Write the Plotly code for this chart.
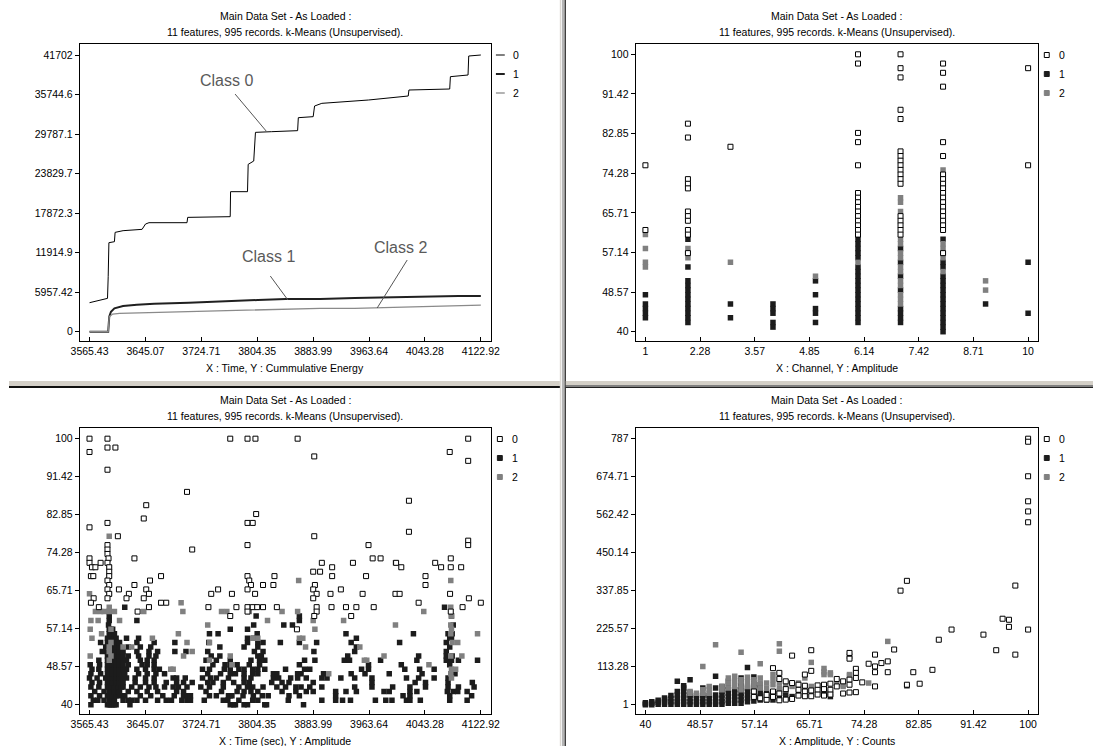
import plotly.graph_objects as go

W, H = 1102, 746
FONT = "Liberation Sans"

# ---------------- Top-left: cumulative energy vs time ----------------
c0_time = [3565.43, 3591.04, 3592.02, 3593.01, 3600.89, 3601.87, 3613.20, 3640.29, 3645.21, 3650.14,
           3704.31, 3705.29, 3765.86, 3766.36, 3790.49, 3791.47, 3799.35, 3801.82, 3824.96, 3861.90,
           3862.88, 3884.06, 3886.03, 3896.37, 3962.85, 4019.49, 4020.47, 4078.58, 4079.57, 4104.68,
           4105.67, 4122.92]
c0_energy = [4371, 5024, 8290, 13415, 13566, 14972, 15224, 15425, 16228, 16429,
             16429, 17233, 17334, 21102, 21102, 25222, 25724, 30045, 30146, 30297,
             32256, 32407, 34015, 34416, 34919, 35522, 36426, 36577, 38436, 38687,
             41551, 41702]
c1_time = [3565.43, 3592.02, 3593.50, 3595.96, 3600.89, 3613.20, 3632.90, 3657.52, 3706.77, 3756.02,
           3805.27, 3844.67, 3893.92, 3943.16, 3992.41, 4041.66, 4090.91, 4122.92]
c1_energy = [0, 0, 2261, 3015, 3517, 3869, 4070, 4220, 4371, 4522,
             4773, 4924, 4924, 5075, 5175, 5326, 5376, 5376]
c2_time = [3565.43, 3592.02, 3593.50, 3598.42, 3608.27, 3647.67, 3696.92, 3746.17, 3795.42, 3844.67,
           3893.92, 3943.16, 3992.41, 4041.66, 4090.91, 4122.92]
c2_energy = [0, 0, 2261, 2663, 2763, 2864, 3015, 3166, 3266, 3367,
             3517, 3517, 3668, 3768, 3919, 4019]

time_ticks = [3565.43, 3645.07, 3724.71, 3804.35, 3883.99, 3963.64, 4043.28, 4122.92]
time_labels = ["3565.43", "3645.07", "3724.71", "3804.35", "3883.99", "3963.64", "4043.28", "4122.92"]
energy_ticks = [0, 5957.42, 11914.9, 17872.3, 23829.7, 29787.1, 35744.6, 41702]
energy_labels = ["0", "5957.42", "11914.9", "17872.3", "23829.7", "29787.1", "35744.6", "41702"]

# callouts: label, text position (t, E), pointer start, pointer end
callout_labels = ["Class 0", "Class 1", "Class 2"]
callout_text_pos = [(3760.9, 37927), (3820.1, 11403), (4009.1, 12760)]
callout_from = [(3772.8, 35817), (3823.0, 8389), (4018.0, 10801)]
callout_to = [(3817.1, 30241), (3848.1, 4773), (3975.2, 3567)]

# ---------------- Top-right: channel vs amplitude ----------------
tr_class0 = [(1, 76), (1, 62),
             (2, 85), (2, 82), (2, 73), (2, 72), (2, 71), (2, 66), (2, 65), (2, 64), (2, 62), (2, 61), (2, 57),
             (3, 80),
             (6, 100), (6, 98), (6, 83), (6, 81), (6, 76), (6, 70), (6, 69), (6, 68), (6, 67), (6, 66),
             (6, 65), (6, 64), (6, 63), (6, 62), (6, 61),
             (7, 100), (7, 97), (7, 95), (7, 88), (7, 86), (7, 79), (7, 78), (7, 77), (7, 76), (7, 75),
             (7, 74), (7, 73), (7, 72), (7, 65), (7, 64), (7, 63), (7, 62), (7, 61),
             (8, 98), (8, 96), (8, 93), (8, 81), (8, 78), (8, 74), (8, 73), (8, 72), (8, 71), (8, 70),
             (8, 69), (8, 68), (8, 67), (8, 66), (8, 65), (8, 64), (8, 63), (8, 62), (8, 57),
             (10, 97), (10, 76)]
tr_class1 = [(1, 48), (1, 46), (1, 45), (1, 44), (1, 43),
             (2, 60), (2, 54), (2, 51), (2, 50), (2, 49), (2, 48), (2, 47), (2, 46), (2, 45), (2, 44), (2, 43), (2, 42),
             (3, 46), (3, 43),
             (4, 46), (4, 45), (4, 44), (4, 42), (4, 41),
             (5, 51), (5, 48), (5, 45), (5, 44), (5, 42),
             (6, 60), (6, 59), (6, 58), (6, 57), (6, 56), (6, 54), (6, 53), (6, 52), (6, 51), (6, 50),
             (6, 49), (6, 48), (6, 47), (6, 46), (6, 45), (6, 44), (6, 43), (6, 42),
             (7, 58), (7, 55), (7, 52), (7, 49), (7, 45), (7, 44), (7, 43), (7, 42),
             (8, 60), (8, 55), (8, 54), (8, 52), (8, 51), (8, 50), (8, 49), (8, 48), (8, 47), (8, 46),
             (8, 45), (8, 44), (8, 43), (8, 42), (8, 41), (8, 40),
             (9, 46),
             (10, 55), (10, 44)]
tr_class2 = [(1, 61), (1, 58), (1, 55), (1, 54),
             (2, 58), (2, 56),
             (3, 55),
             (5, 52),
             (6, 55),
             (7, 69), (7, 68), (7, 66), (7, 60), (7, 59), (7, 57), (7, 56), (7, 54), (7, 53), (7, 51),
             (7, 50), (7, 48), (7, 47), (7, 46),
             (8, 75), (8, 59), (8, 58), (8, 56), (8, 53),
             (9, 51), (9, 49)]

channel_ticks = [1, 2.2857, 3.5714, 4.8571, 6.1429, 7.4286, 8.7143, 10]
channel_labels = ["1", "2.28", "3.57", "4.85", "6.14", "7.42", "8.71", "10"]
amp_ticks = [40, 48.571, 57.143, 65.714, 74.286, 82.857, 91.429, 100]
amp_labels = ["40", "48.57", "57.14", "65.71", "74.28", "82.85", "91.42", "100"]

# ---------------- Bottom-left: time vs amplitude ----------------
bl_class0 = [(3565.4, 100), (3591.0, 100), (3765.9, 100), (3790.5, 100), (3801.8, 100), (3861.9, 100), (4104.9, 100),
             (3591.0, 98), (3602.3, 98), (3565.4, 97), (4078.6, 97), (3885.6, 96), (4104.9, 95), (3591.0, 93),
             (3704.3, 88), (4020.5, 86), (3646.2, 85), (3802.8, 83), (3642.7, 82),
             (3790.5, 81), (3797.9, 81), (3591.0, 81), (3565.4, 80), (4020.5, 79),
             (3605.8, 78), (3885.6, 78), (4104.9, 77),
             (3790.5, 76), (3962.9, 76), (4104.9, 76), (3591.0, 76),
             (3711.7, 75), (3591.0, 75), (3591.0, 74),
             (3565.4, 73), (3629.4, 73), (3968.8, 73), (3980.1, 73), (4080.1, 73), (3592.5, 73),
             (3565.4, 72), (3581.2, 72), (3896.4, 72), (3940.7, 72), (4002.2, 72), (4057.9, 72), (3591.0, 72),
             (3568.9, 71), (3573.8, 71), (3911.1, 71), (4009.6, 71), (4066.3, 71), (4080.1, 71), (4094.9, 71), (3593.5, 71),
             (3884.1, 70), (3893.9, 70), (3593.5, 70),
             (3567.4, 69), (3570.8, 69), (3667.3, 69), (3790.5, 69), (3828.9, 69), (3911.1, 69), (3959.4, 69),
             (4044.1, 69), (3593.5, 69),
             (3651.6, 68), (3793.0, 68), (3591.0, 68),
             (3629.4, 67), (3795.4, 67), (3812.6, 67), (3827.4, 67), (3886.5, 67), (4044.1, 67), (3593.5, 67),
             (3607.3, 66), (3646.2, 66), (3748.6, 66), (3790.5, 66), (3884.1, 66), (3923.5, 66), (3591.0, 66),
             (3621.5, 65), (3650.1, 65), (3738.8, 65), (3768.3, 65), (3801.3, 65), (3889.0, 65), (3908.7, 65),
             (3954.5, 65), (4001.3, 65), (4007.2, 65), (4079.1, 65), (3593.5, 65),
             (3571.3, 64), (3618.1, 64), (3642.7, 64), (3884.1, 64), (4105.9, 64), (3591.0, 64),
             (3567.4, 63), (3667.3, 63), (3674.7, 63), (4034.3, 63), (4122.9, 63),
             (3578.7, 62), (3650.1, 62), (3734.8, 62), (3774.7, 62), (3790.5, 62), (3797.9, 62), (3804.3, 62),
             (3812.6, 62), (3832.3, 62), (3889.0, 62), (3910.2, 62), (3930.8, 62), (3945.6, 62), (3970.3, 62),
             (4096.9, 62),
             (3633.9, 61), (3790.5, 61), (4080.1, 61), (3889.0, 61),
             (3765.9, 60), (3938.2, 60), (3885.6, 60), (3860.9, 57)]

bl_class1 = [
    # amplitude 40
    (3567.4, 40), (3591.0, 40), (3593.5, 40), (3596.0, 40), (3598.4, 40), (3600.9, 40), (3603.3, 40),
    (3623.0, 40), (3765.9, 40), (3770.8, 40), (3773.3, 40), (3785.6, 40), (3790.5, 40), (3815.1, 40),
    (3817.6, 40), (3870.3, 40),
    # 41
    (3570.8, 41), (3577.2, 41), (3586.1, 41), (3593.5, 41), (3596.0, 41), (3598.4, 41), (3600.9, 41),
    (3613.2, 41), (3620.6, 41), (3625.5, 41), (3632.9, 41), (3645.2, 41), (3662.4, 41), (3674.7, 41),
    (3682.1, 41), (3696.9, 41), (3704.3, 41), (3706.8, 41), (3709.2, 41), (3728.9, 41), (3756.0, 41),
    (3762.4, 41), (3778.2, 41), (3797.9, 41), (3805.2, 41), (3848.6, 41), (3896.4, 41), (3916.1, 41),
    (3925.9, 41), (3937.2, 41), (3972.7, 41), (3987.5, 41), (3996.3, 41), (4017.0, 41), (4021.9, 41),
    (4036.7, 41), (4078.6, 41), (4103.4, 41),
    # 42
    (3567.4, 42), (3579.7, 42), (3591.0, 42), (3594.5, 42), (3598.4, 42), (3603.3, 42), (3608.2, 42),
    (3615.6, 42), (3637.8, 42), (3652.6, 42), (3669.8, 42), (3686.1, 42), (3699.4, 42), (3704.3, 42),
    (3709.2, 42), (3736.3, 42), (3746.1, 42), (3763.4, 42), (3765.9, 42), (3768.3, 42), (3784.1, 42),
    (3798.8, 42), (3811.6, 42), (3820.0, 42), (3849.6, 42), (3864.4, 42), (3916.1, 42), (4012.1, 42),
    (4021.9, 42), (4078.6, 42), (4109.8, 42),
    # 43
    (3572.8, 43), (3586.1, 43), (3593.5, 43), (3596.0, 43), (3600.9, 43), (3605.8, 43), (3608.2, 43),
    (3620.6, 43), (3632.9, 43), (3647.6, 43), (3662.4, 43), (3689.5, 43), (3699.4, 43), (3731.4, 43),
    (3753.5, 43), (3775.7, 43), (3785.6, 43), (3795.4, 43), (3805.2, 43), (3839.7, 43), (3859.4, 43),
    (3874.2, 43), (3884.1, 43), (3916.1, 43), (3930.8, 43), (3945.6, 43), (3985.0, 43), (3992.4, 43),
    (4021.9, 43), (4031.8, 43), (4075.2, 43), (4083.6, 43), (4090.0, 43), (4103.4, 43),
    # 44
    (3567.4, 44), (3578.7, 44), (3591.0, 44), (3593.5, 44), (3596.0, 44), (3600.9, 44), (3605.8, 44),
    (3610.7, 44), (3613.2, 44), (3625.5, 44), (3637.8, 44), (3650.1, 44), (3660.0, 44), (3672.3, 44),
    (3684.6, 44), (3692.0, 44), (3704.3, 44), (3724.0, 44), (3736.3, 44), (3756.0, 44), (3778.2, 44),
    (3790.5, 44), (3797.9, 44), (3812.6, 44), (3832.3, 44), (3844.7, 44), (3859.4, 44), (3866.8, 44),
    (3879.2, 44), (3896.4, 44), (3943.2, 44), (3967.8, 44), (3997.3, 44), (4021.9, 44), (4044.1, 44),
    (4076.2, 44), (4091.0, 44), (4113.3, 44),
    # 45
    (3568.9, 45), (3579.7, 45), (3591.0, 45), (3594.5, 45), (3598.4, 45), (3603.3, 45), (3608.2, 45),
    (3613.2, 45), (3630.4, 45), (3645.2, 45), (3657.5, 45), (3674.7, 45), (3689.5, 45), (3699.4, 45),
    (3711.7, 45), (3733.8, 45), (3741.2, 45), (3756.0, 45), (3770.8, 45), (3785.6, 45), (3793.0, 45),
    (3825.0, 45), (3839.7, 45), (3849.6, 45), (3884.1, 45), (3967.8, 45), (4029.3, 45), (4044.1, 45),
    (4076.2, 45), (4110.8, 45),
    # 46
    (3565.4, 46), (3576.2, 46), (3588.5, 46), (3591.0, 46), (3594.5, 46), (3598.4, 46), (3603.3, 46),
    (3608.2, 46), (3613.2, 46), (3618.1, 46), (3630.4, 46), (3645.2, 46), (3657.5, 46), (3684.6, 46),
    (3689.5, 46), (3701.8, 46), (3726.4, 46), (3737.8, 46), (3746.1, 46), (3763.4, 46), (3785.6, 46),
    (3795.4, 46), (3827.4, 46), (3834.8, 46), (3852.0, 46), (3861.9, 46), (3874.2, 46), (3896.4, 46),
    (3903.8, 46), (3923.5, 46), (3943.2, 46), (3967.8, 46), (4017.0, 46), (4034.3, 46), (4056.4, 46),
    (4076.2, 46),
    # 47
    (3567.4, 47), (3581.2, 47), (3591.0, 47), (3593.5, 47), (3598.4, 47), (3603.3, 47), (3608.2, 47),
    (3615.6, 47), (3635.3, 47), (3647.6, 47), (3660.0, 47), (3672.3, 47), (3733.8, 47), (3752.1, 47),
    (3765.9, 47), (3773.3, 47), (3785.6, 47), (3797.9, 47), (3805.2, 47), (3827.4, 47), (3832.3, 47),
    (3861.9, 47), (3866.8, 47), (3898.8, 47), (3938.2, 47), (3957.9, 47), (3992.4, 47), (4039.2, 47),
    (4080.1, 47), (4086.1, 47),
    # 48
    (3568.9, 48), (3578.7, 48), (3591.0, 48), (3594.5, 48), (3598.4, 48), (3603.3, 48), (3608.2, 48),
    (3613.2, 48), (3618.1, 48), (3632.9, 48), (3645.2, 48), (3657.5, 48), (3664.9, 48), (3726.4, 48),
    (3736.3, 48), (3757.5, 48), (3765.9, 48), (3778.2, 48), (3785.6, 48), (3797.9, 48), (3805.2, 48),
    (3815.1, 48), (3844.7, 48), (3871.8, 48), (3879.2, 48), (3953.0, 48), (3962.9, 48), (4014.6, 48),
    (4035.7, 48), (4056.4, 48),
    # 49
    (3566.4, 49), (3579.7, 49), (3591.0, 49), (3593.5, 49), (3598.4, 49), (3603.3, 49), (3608.2, 49),
    (3613.2, 49), (3620.6, 49), (3640.3, 49), (3647.6, 49), (3657.5, 49), (3741.2, 49), (3758.5, 49),
    (3765.9, 49), (3775.7, 49), (3793.0, 49), (3807.7, 49), (3864.4, 49), (3962.9, 49), (4009.6, 49),
    (4078.6, 49),
    # 50
    (3578.7, 50), (3591.0, 50), (3594.5, 50), (3598.4, 50), (3603.3, 50), (3608.2, 50), (3613.2, 50),
    (3618.1, 50), (3637.8, 50), (3647.6, 50), (3657.5, 50), (3731.4, 50), (3746.1, 50), (3765.9, 50),
    (3795.4, 50), (3807.7, 50), (3815.1, 50), (3871.8, 50), (3886.5, 50), (3928.4, 50), (3935.8, 50),
    (3980.1, 50), (4031.8, 50), (4073.7, 50), (4081.1, 50), (4091.0, 50), (4118.2, 50),
    # 51
    (3591.0, 51), (3593.5, 51), (3598.4, 51), (3603.3, 51), (3608.2, 51), (3613.2, 51), (3620.6, 51),
    (3635.3, 51), (3650.1, 51), (3660.0, 51), (3738.8, 51), (3751.1, 51), (3805.2, 51), (3810.2, 51),
    (3933.3, 51), (4034.3, 51), (4073.7, 51), (4082.1, 51),
    # 52
    (3583.6, 52), (3591.0, 52), (3594.5, 52), (3598.4, 52), (3603.3, 52), (3608.2, 52), (3613.2, 52),
    (3632.9, 52), (3650.1, 52), (3662.4, 52), (3687.0, 52), (3702.8, 52), (3733.8, 52), (3800.3, 52),
    (3812.6, 52), (3885.1, 52), (3943.2, 52), (4073.7, 52),
    # 53
    (3588.5, 53), (3593.5, 53), (3598.4, 53), (3603.3, 53), (3608.2, 53), (3620.6, 53), (3637.8, 53),
    (3652.6, 53), (3751.1, 53), (3785.6, 53), (3805.2, 53), (3945.6, 53), (4078.6, 53),
    # 54
    (3581.2, 54), (3591.0, 54), (3594.5, 54), (3598.4, 54), (3603.3, 54), (3608.2, 54), (3632.9, 54),
    (3657.5, 54), (3687.0, 54), (3735.3, 54), (3790.5, 54), (3805.2, 54), (3812.6, 54), (3837.3, 54),
    (3864.4, 54), (3889.0, 54), (3938.2, 54), (4007.2, 54), (4073.7, 54),
    # 55
    (3591.0, 55), (3594.5, 55), (3598.4, 55), (3603.3, 55), (3618.1, 55), (3635.3, 55), (3790.5, 55),
    (3799.3, 55), (3945.6, 55), (4078.6, 55), (4081.1, 55),
    # 56 - 62
    (3593.5, 56), (3596.0, 56), (3600.9, 56), (3736.3, 56), (3748.6, 56), (3804.3, 56), (3930.8, 56),
    (4026.9, 56), (4076.2, 56), (4082.1, 56),
    (3593.5, 57), (3596.0, 57), (3598.4, 57), (3765.9, 57), (3790.5, 57),
    (3592.5, 58), (3799.3, 58), (3842.2, 58), (3854.5, 58), (4083.6, 58),
    (3593.5, 59), (3632.9, 59), (3864.4, 59),
    (3593.5, 60), (3802.8, 60), (3864.4, 60), (4081.1, 60),
    (3593.5, 61),
    (3615.6, 62), (4071.2, 62)]

bl_class2 = [(3565.4, 65), (3567.4, 59), (3566.4, 57), (3568.9, 55), (3566.4, 51), (3573.8, 61), (3577.7, 59),
             (3581.2, 61), (3582.6, 56), (3586.1, 61),
             (3593.5, 78), (3593.5, 71), (3593.5, 69), (3593.5, 67), (3593.5, 65), (3593.5, 62), (3593.5, 61),
             (3593.5, 53), (3593.5, 52), (3596.0, 51), (3593.5, 50), (3596.0, 54), (3596.0, 57),
             (3600.9, 61), (3608.2, 59), (3613.2, 53), (3625.5, 53), (3642.7, 61), (3655.0, 55), (3667.3, 63),
             (3681.1, 48), (3684.6, 48), (3692.0, 56), (3695.9, 63), (3698.4, 61), (3699.4, 51), (3704.3, 54),
             (3711.7, 52), (3733.8, 58), (3736.3, 54), (3736.3, 50), (3753.5, 61), (3761.0, 61), (3765.9, 51),
             (3768.3, 49), (3797.9, 55), (3793.0, 61), (3805.2, 55), (3819.0, 59), (3839.7, 61), (3861.9, 61),
             (3863.4, 68), (3864.4, 55), (3869.3, 55), (3873.2, 53), (3884.1, 59), (3886.5, 57), (3906.2, 47),
             (3927.4, 59), (3950.5, 53), (3957.0, 50), (3960.4, 50), (3985.0, 51), (4001.3, 58), (4001.3, 72),
             (4041.6, 61), (4049.0, 49), (4080.1, 68),
             (4080.1, 62), (4081.1, 60), (4080.1, 58), (4081.1, 57), (4080.1, 56), (4082.1, 54), (4080.1, 51),
             (4081.1, 48), (4080.1, 47), (4081.1, 46),
             (4090.0, 54), (4087.0, 48), (4095.9, 51), (4118.2, 56)]

# ---------------- Bottom-right: amplitude vs counts ----------------
br_class0 = [(100, 787), (100, 778), (100, 676), (100, 602), (100, 572), (100, 540), (100, 223),
             (98, 353), (98, 149), (80, 338), (81, 367), (96, 255), (97, 252), (97, 231),
             (95, 162), (93, 208), (88, 223), (86, 193), (85, 104), (83, 63), (82, 97), (81, 60),
             (79, 164), (78, 129), (78, 97), (77, 124), (76, 149), (76, 114), (76, 97), (76, 55),
             (75, 122), (74, 67), (73, 107), (73, 95), (73, 80), (73, 38),
             (72, 154), (72, 137), (72, 75), (72, 60), (72, 37),
             (71, 70), (71, 34), (70, 77), (70, 55), (69, 63), (69, 45), (69, 31), (68, 60), (68, 47), (68, 28),
             (67, 58), (67, 45), (67, 31), (66, 162), (66, 101), (66, 43), (66, 26),
             (65, 90), (65, 57), (65, 40), (65, 26), (64, 60), (64, 45), (64, 28),
             (63, 146), (63, 65), (63, 18), (62, 70), (62, 47), (62, 16),
             (61, 95), (61, 77), (61, 34), (61, 14), (60, 109), (60, 40), (60, 24),
             (59, 16), (59, 30), (58, 20), (57, 40), (57, 24)]
br_class1 = [(40, 1), (40, 4), (40, 7), (41, 1), (41, 5), (41, 10), (42, 2), (42, 8), (42, 14),
             (43, 2), (43, 9), (43, 16), (43, 21), (44, 2), (44, 10), (44, 19), (44, 28),
             (45, 2), (45, 10), (45, 20), (45, 30), (45, 40), (45, 70),
             (46, 2), (46, 10), (46, 20), (46, 30), (46, 40), (46, 50), (46, 57),
             (47, 2), (47, 10), (47, 20), (47, 30), (47, 37), (47, 75),
             (48, 2), (48, 10), (48, 20), (48, 28),
             (49, 2), (49, 10), (49, 20), (49, 30), (49, 50),
             (50, 2), (50, 10), (50, 20), (50, 28),
             (51, 2), (51, 10), (51, 20), (51, 30), (51, 50), (51, 85),
             (52, 2), (52, 10), (52, 20), (52, 30), (52, 40), (52, 55),
             (53, 5), (53, 15), (53, 25), (53, 35), (53, 45), (53, 55), (53, 70),
             (54, 5), (54, 15), (54, 25), (54, 35), (54, 45),
             (55, 5), (55, 15), (55, 25), (55, 35), (55, 45), (55, 55), (55, 65), (55, 80),
             (56, 10), (56, 20), (56, 30), (56, 40), (56, 50), (56, 111),
             (57, 12), (57, 22), (57, 35), (57, 50), (57, 65), (57, 83),
             (58, 15), (58, 25), (58, 35), (58, 50), (58, 60),
             (59, 15), (59, 25), (59, 35), (60, 15), (60, 25), (60, 35),
             (61, 20), (61, 40), (62, 20), (62, 35), (63, 25), (64, 30),
             (68, 30), (68, 40), (69, 25), (69, 35), (72, 144), (81, 57)]
br_class2 = [(49, 114), (51, 178), (55, 156), (58, 122), (61, 181), (61, 159), (60, 90), (60, 75),
             (66, 126), (78, 188), (68, 108), (68, 98), (68, 90), (69, 90), (71, 55), (72, 87), (75, 65), (65, 80),
             (47, 40), (47, 35), (48, 35), (49, 35), (49, 45), (50, 55), (50, 45), (50, 35),
             (52, 55), (52, 45), (53, 80), (53, 65), (53, 50), (54, 85), (54, 70), (54, 55),
             (55, 75), (55, 60), (55, 45), (56, 82), (56, 68), (56, 55), (57, 75), (57, 60), (57, 45),
             (58, 80), (58, 65), (58, 50), (59, 65), (59, 50), (60, 60), (61, 65), (61, 50),
             (62, 55), (62, 45), (63, 55), (64, 65), (64, 50), (65, 55), (66, 55), (66, 40),
             (67, 55), (69, 95), (70, 65), (71, 60), (72, 90)]
count_ticks = [1, 113.286, 225.571, 337.857, 450.143, 562.429, 674.714, 787]
count_labels = ["1", "113.28", "225.57", "337.85", "450.14", "562.42", "674.71", "787"]

# ---------------- shared text ----------------
title_line1 = "Main Data Set - As Loaded :"
title_line2 = "11 features, 995 records. k-Means (Unsupervised)."
axis_captions = ["X : Time, Y : Cummulative Energy", "X : Channel, Y : Amplitude",
                 "X : Time (sec), Y : Amplitude", "X : Amplitude, Y : Counts"]
class_names = ["0", "1", "2"]

# ---------------- styling ----------------
BLACK = "#1c1c1c"
GRAY = "#808080"
marker_styles = {
    "0": dict(symbol="square", size=5, color="white", line=dict(color="black", width=1)),
    "1": dict(symbol="square", size=5.5, color=BLACK, line=dict(width=0)),
    "2": dict(symbol="square", size=5.5, color=GRAY, line=dict(width=0)),
}

# pixel layout of the four plot boxes (left, right, top, bottom)
boxes = {
    "tl": (72, 490, 44, 341),
    "tr": (637, 1046, 44, 341),
    "bl": (72, 490, 428, 714),
    "br": (637, 1046, 428, 714),
}


def px(x):
    return x / W


def py(y):
    return 1 - y / H


fig = go.Figure()

# top-left lines
line_styles = [dict(color="black", width=1), dict(color="#202020", width=2), dict(color="#8a8a8a", width=1.3)]
for name, t, e, ls in zip(class_names, [c0_time, c1_time, c2_time], [c0_energy, c1_energy, c2_energy], line_styles):
    fig.add_trace(go.Scatter(x=t, y=e, mode="lines", line=ls, name=name, showlegend=False,
                             xaxis="x", yaxis="y", hoverinfo="skip"))

# scatter panels: draw class 1, then 2, then 0 on top
def add_points(pts, cls, xa, ya):
    fig.add_trace(go.Scatter(x=[p[0] for p in pts], y=[p[1] for p in pts], mode="markers",
                             marker=marker_styles[cls], name=cls, showlegend=False,
                             xaxis=xa, yaxis=ya, hoverinfo="skip"))

for cls, pts in [("1", tr_class1), ("2", tr_class2), ("0", tr_class0)]:
    add_points(pts, cls, "x2", "y2")
for cls, pts in [("1", bl_class1), ("2", bl_class2), ("0", bl_class0)]:
    add_points(pts, cls, "x3", "y3")
for cls, pts in [("1", br_class1), ("2", br_class2), ("0", br_class0)]:
    add_points(pts, cls, "x4", "y4")

tickfont = dict(family=FONT, size=10.5, color="black")


def axis(domain, rng, tv, tt, anchor, ticks):
    return dict(domain=domain, range=rng, tickvals=tv, ticktext=tt, anchor=anchor,
                showgrid=False, zeroline=False, showline=True, linecolor="black", linewidth=1,
                mirror=True, ticks=ticks, ticklen=4, tickwidth=1, tickcolor="black",
                tickfont=tickfont, fixedrange=True)


def dom(box):
    l, r, t, b = box
    return [px(l), px(r)], [py(b), py(t)]


xd, yd = dom(boxes["tl"])
layout = dict(
    xaxis=axis(xd, [3551.6, 4137.4], time_ticks, time_labels, "y", "inside"),
    yaxis=axis(yd, [-1402, 43360], energy_ticks, energy_labels, "x", "outside"),
)
xd, yd = dom(boxes["tr"])
layout["xaxis2"] = axis(xd, [0.769, 10.231], channel_ticks, channel_labels, "y2", "inside")
layout["yaxis2"] = axis(yd, [37.99, 102.23], amp_ticks, amp_labels, "x2", "outside")
xd, yd = dom(boxes["bl"])
layout["xaxis3"] = axis(xd, [3551.6, 4137.4], time_ticks, time_labels, "y3", "inside")
layout["yaxis3"] = axis(yd, [37.90, 102.41], amp_ticks, amp_labels, "x3", "outside")
xd, yd = dom(boxes["br"])
layout["xaxis4"] = axis(xd, [38.46, 101.54], amp_ticks, amp_labels, "y4", "inside")
layout["yaxis4"] = axis(yd, [-26.5, 818.6], count_ticks, count_labels, "x4", "outside")

annotations = []
shapes = []
small = dict(family=FONT, size=10.5, color="black")

# titles, captions and legends for each panel
for key, cap in zip(["tl", "tr", "bl", "br"], axis_captions):
    l, r, t, b = boxes[key]
    cx = (l + r) / 2
    top = t - 28
    for text, yy in [(title_line1, top), (title_line2, top + 16)]:
        annotations.append(dict(x=px(cx), y=py(yy), xref="paper", yref="paper", text=text, showarrow=False,
                                xanchor="center", yanchor="middle", font=small))
    annotations.append(dict(x=px(cx), y=py(b + 27), xref="paper", yref="paper", text=cap, showarrow=False,
                            xanchor="center", yanchor="middle", font=small))
    # legend
    for i, name in enumerate(class_names):
        ly = t + 11 + 19 * i
        sx = r + 9
        if key == "tl":
            ls = line_styles[i]
            shapes.append(dict(type="line", xref="paper", yref="paper", x0=px(r + 5), x1=px(r + 14),
                               y0=py(ly), y1=py(ly), line=dict(color=ls["color"], width=ls["width"] if i else 1)))
            tx = r + 20
        else:
            st = marker_styles[name]
            half = 2.5
            shapes.append(dict(type="rect", xref="paper", yref="paper", x0=px(sx - half), x1=px(sx + half),
                               y0=py(ly + half), y1=py(ly - half), fillcolor=st["color"],
                               line=dict(color="black" if name == "0" else st["color"], width=1)))
            tx = sx + 10
        annotations.append(dict(x=px(tx), y=py(ly), xref="paper", yref="paper", text=name, showarrow=False,
                                xanchor="left", yanchor="middle", font=small))

# class callouts on top-left panel
for lab, tp, p0, p1 in zip(callout_labels, callout_text_pos, callout_from, callout_to):
    annotations.append(dict(x=tp[0], y=tp[1], xref="x", yref="y", text=lab, showarrow=False,
                            xanchor="center", yanchor="middle",
                            font=dict(family=FONT, size=16, color="#5a5a5a")))
    shapes.append(dict(type="line", xref="x", yref="y", x0=p0[0], y0=p0[1], x1=p1[0], y1=p1[1],
                       line=dict(color="#555555", width=1)))

# window splitter bars (pixel rectangles)
bars = [
    (560, 561, 0, H, "#d4d0c8"), (562, 565, 0, H, "#b4b4b4"), (565, 566, 0, H, "#000000"),
    (0, 560, 381, 386, "#d4d0c8"), (0, 560, 386, 388, "#101010"),
    (566, W, 381, 385, "#d4d0c8"), (566, W, 385, 387, "#808080"), (566, W, 387, 388, "#202020"),
]
for x0, x1, y0, y1, col in bars:
    shapes.append(dict(type="rect", xref="paper", yref="paper", x0=px(x0), x1=px(x1), y0=py(y1), y1=py(y0),
                       fillcolor=col, line=dict(width=0), layer="above"))

layout.update(dict(width=W, height=H, autosize=False, margin=dict(l=0, r=0, t=0, b=0, pad=0),
                   paper_bgcolor="white", plot_bgcolor="white", showlegend=False,
                   annotations=annotations, shapes=shapes, font=small))
fig.update_layout(**layout)

fig.write_html("out.html", config={"displayModeBar": False, "staticPlot": True},
               post_script="document.body.style.margin='0px';document.body.style.overflow='hidden';")
